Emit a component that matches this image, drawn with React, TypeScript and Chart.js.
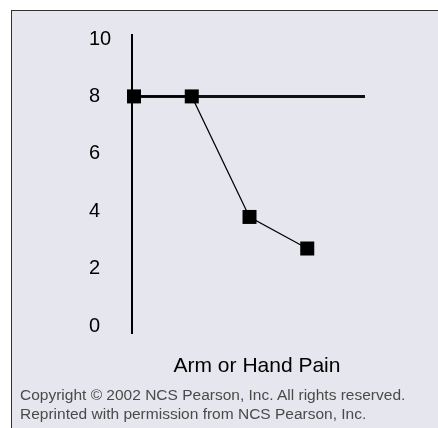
import React, { useEffect, useRef } from "react";
import { Chart, registerables } from "chart.js";

Chart.register(...registerables);

const xValues = [0, 1, 2, 3];
const painValues = [8, 8, 3.8, 2.7];
const thresholdX = [0, 4];
const thresholdY = [8, 8];
const yTicks = [0, 2, 4, 6, 8, 10];
const axisTitle = "Arm or Hand Pain";
const copyrightLines = [
  "Copyright © 2002 NCS Pearson, Inc. All rights reserved.",
  "Reprinted with permission from NCS Pearson, Inc.",
];

const FONT = '"Liberation Sans", Arial, Helvetica, sans-serif';

export default function App() {
  const ref = useRef<HTMLCanvasElement | null>(null);

  useEffect(() => {
    if (!ref.current) return;
    const chart = new Chart(ref.current, {
      type: "line",
      data: {
        datasets: [
          {
            data: xValues.map((x, i) => ({ x, y: painValues[i] })),
            borderColor: "#000",
            borderWidth: 1.2,
            pointStyle: "rect",
            pointRadius: 9.9,
            pointBackgroundColor: "#000",
            pointBorderWidth: 0,
            clip: false as any,
          },
          {
            data: thresholdX.map((x, i) => ({ x, y: thresholdY[i] })),
            borderColor: "#111",
            borderWidth: 3,
            pointRadius: 0,
            clip: false as any,
          },
        ],
      },
      options: {
        animation: false,
        responsive: false,
        layout: { padding: { left: 89, top: 35, right: 73, bottom: 95 } },
        plugins: { legend: { display: false }, tooltip: { enabled: false } },
        scales: {
          x: { type: "linear", display: false, min: -0.035, max: 4 },
          y: {
            type: "linear",
            min: -0.244,
            max: 10.14,
            afterBuildTicks: (s: any) => {
              s.ticks = yTicks.map((v) => ({ value: v }));
            },
            afterFit: (s: any) => {
              s.width = 43;
            },
            grid: { display: false },
            border: { display: true, color: "#000", width: 2 },
            ticks: {
              crossAlign: "far",
              padding: 0,
              color: "#000",
              font: { family: FONT, size: 20 },
            },
          },
        },
      },
    });
    return () => chart.destroy();
  }, []);

  return (
    <div
      style={{
        position: "fixed",
        left: 0,
        top: 0,
        width: 438,
        height: 428,
        overflow: "hidden",
        background: "#fff",
        fontFamily: FONT,
      }}
    >
      <div
        style={{
          position: "absolute",
          left: 11,
          top: 10,
          width: 600,
          height: 600,
          background: "#e6e6ee",
          borderLeft: "1px solid #333",
          borderTop: "1px solid #333",
        }}
      />
      <canvas
        ref={ref}
        width={438}
        height={428}
        style={{ position: "absolute", left: 0, top: 0, width: 438, height: 428 }}
      />
      <div
        style={{
          position: "absolute",
          left: 0,
          width: 514,
          top: 354,
          textAlign: "center",
          fontSize: 21,
          lineHeight: "21px",
          color: "#000",
          whiteSpace: "nowrap",
        }}
      >
        {axisTitle}
      </div>
      <div
        style={{
          position: "absolute",
          left: 20,
          top: 385,
          fontSize: 15.5,
          lineHeight: "19px",
          color: "#4a4a4a",
          whiteSpace: "nowrap",
        }}
      >
        {copyrightLines.map((l, i) => (
          <div key={i}>{l}</div>
        ))}
      </div>
    </div>
  );
}
